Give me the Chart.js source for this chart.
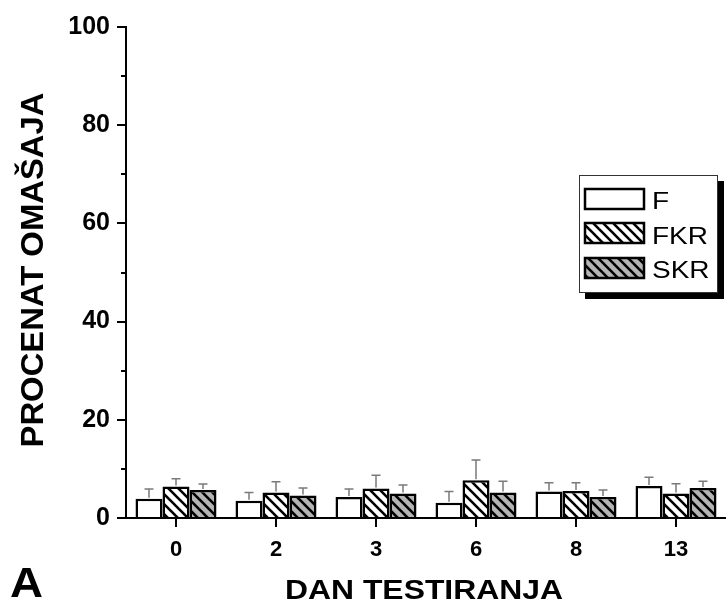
<!DOCTYPE html>
<html>
<head>
<meta charset="utf-8">
<script src="https://cdn.jsdelivr.net/npm/chart.js@4/dist/chart.umd.min.js"></script>
<style>
	html, body { margin: 0; padding: 0; background: #fff; }
	#wrap { width: 726px; height: 608px; }
</style>
</head>
<body>
<div id="wrap"><canvas id="barChart" width="726" height="608"></canvas></div>
<script>
// data
var days = ['0', '2', '3', '6', '8', '13'];
var seriesNames = ['F', 'FKR', 'SKR'];
var fValues = [3.9, 3.5, 4.3, 3.1, 5.4, 6.5];
var fErrors = [2.0, 1.7, 1.6, 2.3, 1.8, 1.8];
var fkrValues = [6.4, 5.2, 6.0, 7.7, 5.5, 5.0];
var fkrErrors = [1.6, 2.2, 2.7, 4.1, 1.7, 2.0];
var skrValues = [5.7, 4.6, 5.0, 5.2, 4.3, 6.1];
var skrErrors = [1.2, 1.5, 1.7, 2.3, 1.4, 1.4];
var yTicks = [0, 20, 40, 60, 80, 100];

var fontFamily = "'Liberation Sans', Arial, sans-serif";

function hatch(bg) {
	var s = 10;
	var c = document.createElement('canvas');
	c.width = s; c.height = s;
	var ctx = c.getContext('2d');
	ctx.fillStyle = bg;
	ctx.fillRect(0, 0, s, s);
	ctx.strokeStyle = '#000';
	ctx.lineWidth = 2.6;
	for (var k = -s; k <= s; k += s) {
		ctx.beginPath();
		ctx.moveTo(k - 1, -1);
		ctx.lineTo(k + s + 1, s + 1);
		ctx.stroke();
	}
	return c.getContext('2d').createPattern(c, 'repeat');
}

var fills = ['#ffffff', hatch('#ffffff'), hatch('#b4b4b4')];
var errors = [fErrors, fkrErrors, skrErrors];

// draws text squeezed/stretched to a given width
function textW(ctx, txt, x, y, size, weight, width, align) {
	ctx.save();
	ctx.font = weight + ' ' + size + 'px ' + fontFamily;
	var w = ctx.measureText(txt).width;
	var sx = width ? width / w : 1;
	ctx.translate(x, y);
	ctx.scale(sx, 1);
	ctx.textAlign = align || 'left';
	ctx.textBaseline = 'alphabetic';
	ctx.fillStyle = '#000';
	ctx.fillText(txt, 0, 0);
	ctx.restore();
}

var extras = {
	id: 'extras',
	afterDatasetsDraw: function(chart) {
		var ctx = chart.ctx, y = chart.scales.y;
		// error bars
		ctx.save();
		ctx.strokeStyle = '#7a7a7a';
		ctx.lineWidth = 1.5;
		chart.data.datasets.forEach(function(ds, i) {
			chart.getDatasetMeta(i).data.forEach(function(bar, j) {
				var top = y.getPixelForValue(ds.data[j] + errors[i][j]);
				ctx.beginPath();
				ctx.moveTo(bar.x, bar.y - 1);
				ctx.lineTo(bar.x, top);
				ctx.moveTo(bar.x - 4.5, top);
				ctx.lineTo(bar.x + 4.5, top);
				ctx.stroke();
			});
		});
		ctx.restore();
	},
	afterDraw: function(chart) {
		var ctx = chart.ctx, y = chart.scales.y;
		// minor ticks
		ctx.save();
		ctx.strokeStyle = '#000';
		ctx.lineWidth = 2;
		for (var v = 10; v < 100; v += 20) {
			var py = Math.round(y.getPixelForValue(v));
			ctx.beginPath();
			ctx.moveTo(y.right - 5, py);
			ctx.lineTo(y.right, py);
			ctx.stroke();
		}
		ctx.restore();

		// axis titles and panel letter
		textW(ctx, 'DAN TESTIRANJA', 424, 599, 27, 'bold', 278, 'center');
		ctx.save();
		ctx.translate(43, 270);
		ctx.rotate(-Math.PI / 2);
		textW(ctx, 'PROCENAT OMAŠAJA', 0, 0, 31, 'bold', 355, 'center');
		ctx.restore();
		textW(ctx, 'A', 10, 597, 42, 'bold', 33, 'left');

		// legend box
		var bx = 579, by = 175, bw = 139, bh = 118;
		ctx.save();
		ctx.fillStyle = '#000';
		ctx.fillRect(bx + 6, by + 6, bw, bh);
		ctx.fillStyle = '#fff';
		ctx.fillRect(bx, by, bw, bh);
		ctx.strokeStyle = '#333';
		ctx.lineWidth = 1;
		ctx.strokeRect(bx + 0.5, by + 0.5, bw - 1, bh - 1);
		var swY = [188, 222, 257];
		var txY = [209, 244, 278];
		ctx.font = '24px ' + fontFamily;
		var sc = 56 / ctx.measureText('FKR').width;
		chart.data.datasets.forEach(function(ds, i) {
			ctx.fillStyle = ds.backgroundColor;
			ctx.fillRect(584, swY[i], 61, 22);
			ctx.strokeStyle = '#000';
			ctx.lineWidth = 2.5;
			ctx.strokeRect(585, swY[i] + 1, 59, 20);
			var w = ctx.measureText(ds.label).width;
			textW(ctx, ds.label, 652, txY[i], 24, 'normal', w * sc, 'left');
		});
		ctx.restore();
	}
};

new Chart(document.getElementById('barChart'), {
	type: 'bar',
	data: {
		labels: days,
		datasets: [
			{ label: seriesNames[0], data: fValues, backgroundColor: fills[0] },
			{ label: seriesNames[1], data: fkrValues, backgroundColor: fills[1] },
			{ label: seriesNames[2], data: skrValues, backgroundColor: fills[2] }
		]
	},
	options: {
		responsive: false,
		animation: false,
		layout: { padding: { top: 27, right: 0, left: 0, bottom: 0 } },
		datasets: {
			bar: {
				borderColor: '#000',
				borderWidth: 2.5,
				categoryPercentage: 0.81,
				barPercentage: 1
			}
		},
		plugins: {
			legend: { display: false },
			tooltip: { enabled: false }
		},
		scales: {
			x: {
				afterFit: function(s) { s.height = 90; },
				grid: { display: true, offset: false, drawOnChartArea: false, tickLength: 9, tickColor: '#000', lineWidth: 2 },
				border: { display: true, color: '#000', width: 2 },
				ticks: { color: '#000', padding: 10, font: { family: fontFamily, size: 22, weight: 'bold' } }
			},
			y: {
				min: 0,
				max: 100,
				afterFit: function(s) { s.width = 126; },
				afterBuildTicks: function(s) { s.ticks = yTicks.map(function(v) { return { value: v }; }); },
				grid: { display: true, drawOnChartArea: false, tickLength: 9, tickColor: '#000', lineWidth: 2 },
				border: { display: true, color: '#000', width: 2 },
				ticks: { color: '#000', padding: 7, font: { family: fontFamily, size: 25, weight: 'bold' } }
			}
		}
	},
	plugins: [extras]
});
</script>
</body>
</html>
